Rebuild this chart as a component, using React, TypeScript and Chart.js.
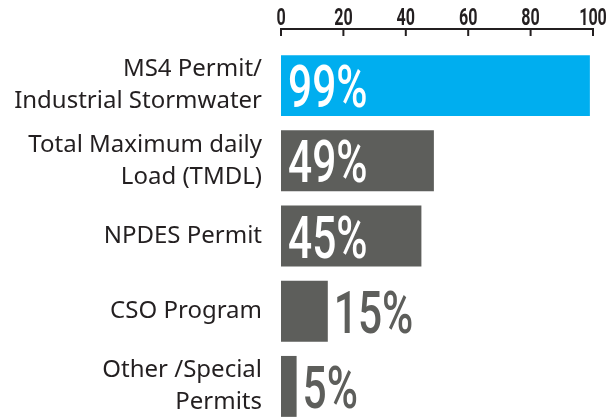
import React, { useEffect, useRef } from "react";
import { Chart, registerables } from "chart.js";

Chart.register(...registerables);

const categories: (string | string[])[] = [
  ["MS4 Permit/", "Industrial Stormwater"],
  ["Total Maximum daily", "Load (TMDL)"],
  "NPDES Permit",
  "CSO Program",
  ["Other /Special", "Permits"],
];
const values: number[] = [99, 49, 45, 15, 5];
const barColors: string[] = ["#00AEEF", "#5D5E5B", "#5D5E5B", "#5D5E5B", "#5D5E5B"];
const xTicks: number[] = [0, 20, 40, 60, 80, 100];

const DARK = "#231F20";
const GRAY = "#5D5E5B";

const customDraw = {
  id: "customDraw",
  afterDatasetsDraw(chart: any) {
    const ctx = chart.ctx as CanvasRenderingContext2D;
    const xs = chart.scales.x;
    const x0 = xs.getPixelForValue(xTicks[0]);
    const x1 = xs.getPixelForValue(xTicks[xTicks.length - 1]);
    const axisY = 29;
    ctx.save();
    ctx.strokeStyle = DARK;
    ctx.lineWidth = 2;
    ctx.beginPath();
    ctx.moveTo(x0 - 1, axisY);
    ctx.lineTo(x1 + 1, axisY);
    ctx.stroke();
    ctx.beginPath();
    xTicks.forEach((t) => {
      const px = xs.getPixelForValue(t);
      ctx.moveTo(px, axisY);
      ctx.lineTo(px, axisY + 7);
    });
    ctx.stroke();
    // tick labels (condensed)
    ctx.fillStyle = DARK;
    ctx.font = "700 24px Roboto";
    ctx.textBaseline = "alphabetic";
    const sx = 0.67;
    xTicks.forEach((t) => {
      const px = xs.getPixelForValue(t);
      const txt = String(t);
      const w = ctx.measureText(txt).width * sx;
      ctx.save();
      ctx.translate(px - w / 2, 25);
      ctx.scale(sx, 1);
      ctx.fillText(txt, 0, 0);
      ctx.restore();
    });
    // value labels
    const meta = chart.getDatasetMeta(0);
    ctx.font = "500 59px Roboto";
    const vs = 0.72;
    meta.data.forEach((bar: any, i: number) => {
      const v = values[i];
      const txt = v + "%";
      const inside = v >= 30;
      const tx = inside ? bar.base + 7 : bar.x + 6;
      ctx.fillStyle = inside ? "#FFFFFF" : GRAY;
      ctx.save();
      ctx.translate(tx, bar.y + 21.5);
      ctx.scale(vs, 1);
      ctx.fillText(txt, 0, 0);
      ctx.restore();
    });
    ctx.restore();
  },
};

export default function App() {
  const ref = useRef<HTMLCanvasElement | null>(null);
  useEffect(() => {
    if (!ref.current) return;
    const chart = new Chart(ref.current, {
      type: "bar",
      data: {
        labels: categories,
        datasets: [
          {
            data: values,
            backgroundColor: barColors,
            borderWidth: 0,
            categoryPercentage: 1,
            barPercentage: 0.81,
          },
        ],
      },
      options: {
        indexAxis: "y",
        responsive: true,
        maintainAspectRatio: false,
        animation: false,
        layout: { padding: { top: 48, right: 15, bottom: 6, left: 0 } },
        plugins: {
          legend: { display: false },
          tooltip: { enabled: false },
        },
        scales: {
          x: { display: false, min: 0, max: 100 },
          y: {
            grid: { display: false, drawTicks: false },
            border: { display: false },
            ticks: {
              color: DARK,
              padding: 19,
              font: { family: "'Noto Sans'", size: 24, lineHeight: 1.33 },
            },
            afterFit(scale: any) {
              scale.width = 281;
              scale.paddingTop = 0;
              scale.paddingBottom = 0;
            },
          },
        },
      },
      plugins: [customDraw],
    } as any);
    return () => chart.destroy();
  }, []);
  return (
    <div
      style={{
        position: "fixed",
        top: 0,
        left: 0,
        width: 608,
        height: 418,
        overflow: "hidden",
        background: "#fff",
      }}
    >
      <div style={{ position: "relative", width: 608, height: 430 }}>
        <canvas ref={ref} />
      </div>
    </div>
  );
}
